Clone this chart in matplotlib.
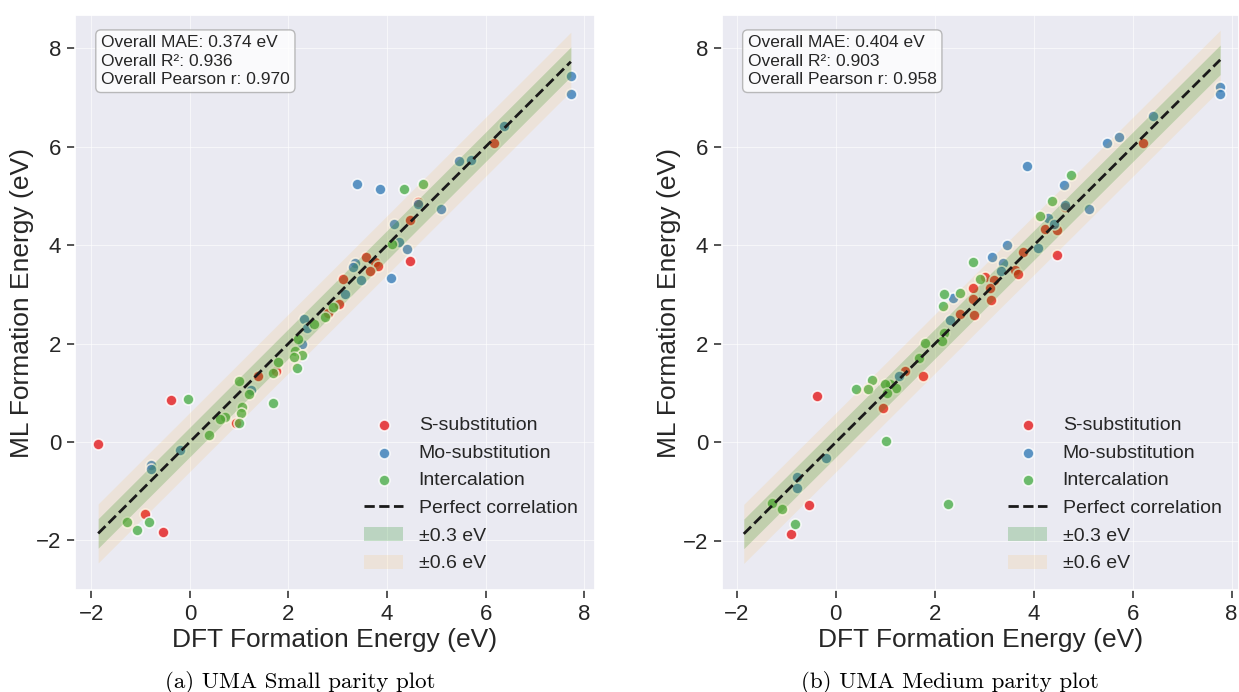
import matplotlib
matplotlib.use('Agg')
import matplotlib.pyplot as plt
import numpy as np
import seaborn as sns

# DFT vs ML formation energies (eV), per defect type
small_s_dft = [6.17, 4.62, 4.46, 4.46, 3.58, 3.75, 3.81, 3.65, 3.11, 3.02, 1.39, 1.74, 0.94, -0.38, -1.86, -0.91, -0.55, 2.80]
small_s_ml = [6.08, 4.88, 4.52, 3.68, 3.75, 3.66, 3.58, 3.48, 3.32, 2.81, 1.35, 1.44, 0.38, 0.85, -0.04, -1.47, -1.83, 2.62]
small_mo_dft = [7.73, 7.73, 6.38, 5.46, 5.70, 3.39, 3.86, 4.62, 5.09, 4.15, 4.24, 4.40, 4.08, 3.36, 3.32, 3.47, 3.15, 2.31, 2.38, 2.27, 1.25, -0.19, -0.79, -0.79]
small_mo_ml = [7.44, 7.07, 6.43, 5.72, 5.73, 5.24, 5.15, 4.84, 4.73, 4.43, 4.07, 3.93, 3.33, 3.64, 3.56, 3.29, 3.01, 2.49, 2.31, 2.00, 1.05, -0.16, -0.47, -0.56]
small_int_dft = [4.35, 4.73, 4.11, 2.91, 2.75, 2.52, 2.20, 2.13, 2.27, 2.12, 2.18, 1.79, 1.69, 1.00, 1.20, 1.68, -0.04, 1.06, 1.03, 0.71, 0.62, 1.00, 0.39, -1.28, -0.83, -1.08]
small_int_ml = [5.15, 5.24, 4.02, 2.75, 2.55, 2.39, 2.10, 1.85, 1.76, 1.73, 1.51, 1.63, 1.41, 1.24, 0.97, 0.80, 0.88, 0.72, 0.58, 0.51, 0.46, 0.38, 0.15, -1.62, -1.63, -1.79]

medium_s_dft = [6.20, 4.63, 4.22, 4.48, 4.48, 3.78, 3.62, 3.68, 3.02, 3.20, 2.77, 3.12, 2.78, 3.14, 2.52, 2.79, 1.76, 1.39, 0.95, -0.37, -0.54, -0.90]
medium_s_ml = [6.09, 4.77, 4.34, 4.31, 3.81, 3.86, 3.50, 3.42, 3.35, 3.30, 3.13, 3.13, 2.92, 2.90, 2.60, 2.59, 1.35, 1.45, 0.69, 0.94, -1.27, -1.86]
medium_mo_dft = [7.77, 7.77, 6.41, 5.48, 5.72, 3.87, 4.61, 4.63, 5.12, 4.28, 4.41, 3.47, 4.09, 3.16, 3.38, 3.33, 2.36, 2.31, 1.28, -0.20, -0.79, -0.79]
medium_mo_ml = [7.22, 7.07, 6.63, 6.08, 6.21, 5.62, 5.22, 4.82, 4.74, 4.55, 4.43, 4.01, 3.94, 3.77, 3.65, 3.48, 2.93, 2.48, 1.35, -0.32, -0.70, -0.93]
medium_int_dft = [4.75, 4.37, 4.12, 2.77, 2.91, 2.19, 2.52, 2.17, 2.18, 2.14, 1.80, 1.69, 1.09, 0.99, 1.22, 1.03, 0.73, 0.65, 0.40, 1.02, 2.27, -1.29, -1.08, -0.83]
medium_int_ml = [5.44, 4.91, 4.59, 3.66, 3.32, 3.01, 3.04, 2.77, 2.22, 2.06, 2.01, 1.71, 1.18, 1.18, 1.10, 1.00, 1.26, 1.08, 1.08, 0.02, -1.26, -1.23, -1.35, -1.66]

model_names = ['UMA Small', 'UMA Medium']
mae = [0.374, 0.404]
r2 = [0.936, 0.903]
pearson = [0.970, 0.958]

LABELS = ['S-substitution', 'Mo-substitution', 'Intercalation']
COLORS = ['#e41a1c', '#377eb8', '#4daf4a']

sns.set_theme(style='darkgrid')
plt.rcParams['font.family'] = ['Liberation Sans', 'DejaVu Sans']
plt.rcParams['axes.unicode_minus'] = True


def parity_panel(ax, groups, mae_val, r2_val, r_val, xlim, ylim):
    all_vals = np.concatenate([np.r_[d, m] for d, m in groups])
    lo, hi = all_vals.min(), all_vals.max()

    for (dft, ml), lab, col in zip(groups, LABELS, COLORS):
        ax.scatter(dft, ml, s=62, c=col, alpha=0.8, edgecolors='white',
                   linewidths=1.2, label=lab, zorder=2)

    line = np.array([lo, hi])
    ax.plot(line, line, 'k--', lw=2, label='Perfect correlation', zorder=4)
    ax.fill_between(line, line - 0.3, line + 0.3, color='green', alpha=0.2,
                    lw=0, label='±0.3 eV', zorder=3)
    ax.fill_between(line, line - 0.6, line + 0.6, color='orange', alpha=0.1,
                    lw=0, label='±0.6 eV', zorder=3)

    ax.set_xlim(*xlim)
    ax.set_ylim(*ylim)
    ax.set_xticks([-2, 0, 2, 4, 6, 8])
    ax.set_yticks([-2, 0, 2, 4, 6, 8])
    ax.grid(True, color='white', linewidth=0.8, alpha=0.6)
    ax.tick_params(axis='both', labelsize=16, colors='#262626', bottom=True,
                   left=True, length=6, width=1.1, pad=4)
    ax.set_xlabel('DFT Formation Energy (eV)', fontsize=19, color='#262626', labelpad=2)
    ax.set_ylabel('ML Formation Energy (eV)', fontsize=19, color='#262626', labelpad=1)

    stats = (f'Overall MAE: {mae_val:.3f} eV\n'
             f'Overall R²: {r2_val:.3f}\n'
             f'Overall Pearson r: {r_val:.3f}')
    ax.text(0.05, 0.965, stats, transform=ax.transAxes, fontsize=12.5,
            va='top', ha='left', color='#262626', linespacing=1.3,
            bbox=dict(boxstyle='round,pad=0.3', facecolor='white', alpha=0.8,
                      edgecolor='#aaaaaa'))

    ax.legend(loc='lower right', fontsize=14, frameon=False,
              handlelength=2.0, labelspacing=0.52, borderaxespad=0.5,
              labelcolor='#262626')


fig = plt.figure(figsize=(12.39, 6.92), dpi=100)
W, H = 1239, 692
ax_l = fig.add_axes([75 / W, (H - 590) / H, 520 / W, 575 / H])
ax_r = fig.add_axes([722 / W, (H - 590) / H, 517 / W, 575 / H])

parity_panel(ax_l,
             [(small_s_dft, small_s_ml), (small_mo_dft, small_mo_ml), (small_int_dft, small_int_ml)],
             mae[0], r2[0], pearson[0], (-2.33, 8.22), (-3.01, 8.68))
parity_panel(ax_r,
             [(medium_s_dft, medium_s_ml), (medium_mo_dft, medium_mo_ml), (medium_int_dft, medium_int_ml)],
             mae[1], r2[1], pearson[1], (-2.30, 8.15), (-3.00, 8.68))

fig.text(300 / W, 1 - 682 / H, f'(a) {model_names[0]} parity plot', ha='center',
         va='center', fontsize=16.5, family='cmr10', color='black')
fig.text(950 / W, 1 - 682 / H, f'(b) {model_names[1]} parity plot', ha='center',
         va='center', fontsize=16.5, family='cmr10', color='black')

fig.savefig('out.png', dpi=100, facecolor='white')
